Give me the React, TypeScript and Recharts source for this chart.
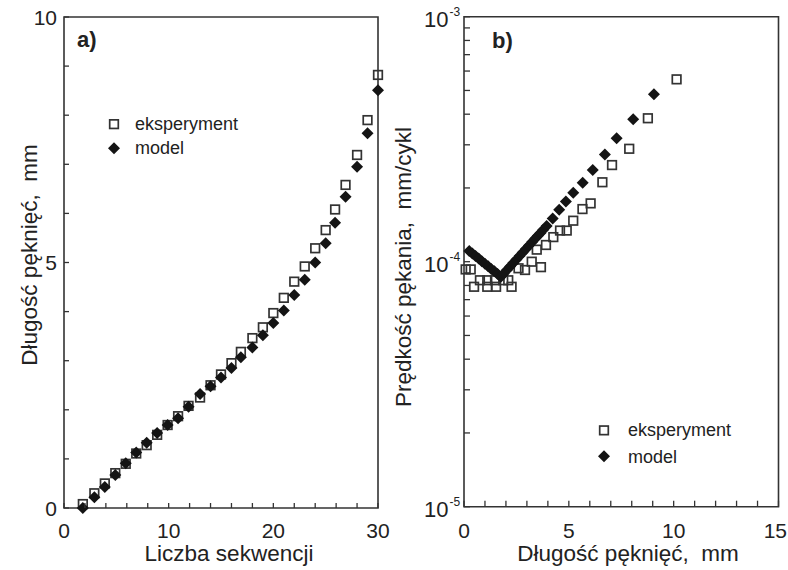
import React from 'react';
import { ScatterChart, Scatter, XAxis, YAxis, ReferenceArea, Legend, Label } from 'recharts';

const FONT = '"Liberation Sans", Arial, Helvetica, sans-serif';
const INK = '#222222';
const MARK = '#141414';
const SQ = '#333333';

// ---------- panel a) ----------
const aSequence = [1.8, 2.9, 3.9, 4.9, 5.9, 6.9, 7.9, 8.9, 9.9, 10.9, 11.9, 13.0, 14.0, 15.0, 16.0, 16.9, 18.0, 19.0, 20.0, 21.0, 22.0, 23.0, 24.0, 25.0, 25.9, 26.9, 28.0, 29.0, 30.0];
const aExperiment = [0.08, 0.30, 0.50, 0.71, 0.90, 1.11, 1.28, 1.49, 1.69, 1.87, 2.08, 2.25, 2.50, 2.72, 2.95, 3.18, 3.46, 3.68, 3.97, 4.28, 4.61, 4.92, 5.29, 5.66, 6.08, 6.58, 7.19, 7.90, 8.82];
const aModel = [0.0, 0.22, 0.43, 0.67, 0.91, 1.13, 1.33, 1.53, 1.69, 1.83, 2.06, 2.32, 2.48, 2.66, 2.85, 3.07, 3.27, 3.52, 3.77, 4.02, 4.34, 4.65, 5.0, 5.39, 5.81, 6.34, 6.95, 7.63, 8.51];
const aXTicks = [0, 2, 4, 6, 8, 10, 12, 14, 16, 18, 20, 22, 24, 26, 28, 30];
const aXLabels = [0, 10, 20, 30];
const aYTicks = [0, 1, 2, 3, 4, 5, 6, 7, 8, 9, 10];
const aYLabels = [0, 5, 10];

// ---------- panel b) ----------
const bExpLength = [0.08, 0.32, 0.48, 0.76, 1.11, 1.11, 1.48, 1.53, 1.87, 2.11, 2.27, 2.6, 2.91, 3.23, 3.47, 3.67, 3.91, 4.26, 4.58, 4.9, 5.21, 5.65, 6.04, 6.6, 7.06, 7.88, 8.77, 10.14];
const bExpRate = [9.3e-5, 9.3e-5, 7.9e-5, 8.4e-5, 8.4e-5, 7.9e-5, 8.4e-5, 7.9e-5, 8.4e-5, 8.4e-5, 7.9e-5, 9.4e-5, 9.25e-5, 1.0e-4, 1.12e-4, 9.5e-5, 1.17e-4, 1.26e-4, 1.34e-4, 1.34e-4, 1.47e-4, 1.64e-4, 1.73e-4, 2.11e-4, 2.48e-4, 2.89e-4, 3.85e-4, 5.55e-4];
const bModelLength = [0.25, 0.4, 0.55, 0.7, 0.85, 1.0, 1.15, 1.3, 1.45, 1.6, 1.76, 1.9, 2.05, 2.2, 2.35, 2.5, 2.65, 2.8, 2.95, 3.1, 3.25, 3.4, 3.52, 3.65, 3.78, 3.94, 4.23, 4.54, 4.86, 5.21, 5.66, 6.14, 6.72, 7.28, 8.07, 9.06];
const bModelRate = [1.106e-4, 1.081e-4, 1.055e-4, 1.031e-4, 1.005e-4, 9.81e-5, 9.58e-5, 9.34e-5, 9.14e-5, 8.91e-5, 8.69e-5, 8.96e-5, 9.26e-5, 9.57e-5, 9.88e-5, 1.02e-4, 1.055e-4, 1.09e-4, 1.126e-4, 1.164e-4, 1.203e-4, 1.243e-4, 1.276e-4, 1.31e-4, 1.35e-4, 1.40e-4, 1.50e-4, 1.63e-4, 1.76e-4, 1.91e-4, 2.10e-4, 2.37e-4, 2.74e-4, 3.19e-4, 3.81e-4, 4.83e-4];
const bXTicks = [0, 1, 2, 3, 4, 5, 6, 7, 8, 9, 10, 11, 12, 13, 14, 15];
const bXLabels = [0, 5, 10, 15];
const bYTicks = [1e-5, 2e-5, 3e-5, 4e-5, 5e-5, 6e-5, 7e-5, 8e-5, 9e-5, 1e-4, 2e-4, 3e-4, 4e-4, 5e-4, 6e-4, 7e-4, 8e-4, 9e-4, 1e-3];
const bYLabels = [1e-5, 1e-4, 1e-3];

const SERIES_NAMES = ['eksperyment', 'model'];

const aExpData = aSequence.map((x, i) => ({ x, y: aExperiment[i] }));
const aModelData = aSequence.map((x, i) => ({ x, y: aModel[i] }));
const bExpData = bExpLength.map((x, i) => ({ x, y: bExpRate[i] }));
const bModelData = bModelLength.map((x, i) => ({ x, y: bModelRate[i] }));

const squareShape = (props: any) => {
  const { cx, cy } = props;
  if (cx == null || cy == null) return <g />;
  return <rect x={cx - 4.3} y={cy - 4.3} width={8.6} height={8.6} fill="none" stroke={SQ} strokeWidth={1.7} />;
};
const diamondShape = (props: any) => {
  const { cx, cy } = props;
  if (cx == null || cy == null) return <g />;
  const r = 6;
  return <path d={`M${cx},${cy - r}L${cx + r},${cy}L${cx},${cy + r}L${cx - r},${cy}Z`} fill={MARK} />;
};

const near = (list: number[], v: number) => list.some((l) => Math.abs(l - v) <= Math.abs(l) * 1e-6 + 1e-12);

const leftTick = (axisX: number, len: number, labels: number[], labelX: number, log: boolean) => (p: any) => {
  const v = p.payload.value;
  const y = p.y;
  const lab = near(labels, v);
  return (
    <g>
      <line x1={axisX} x2={axisX + len} y1={y} y2={y} stroke={SQ} strokeWidth={1.3} />
      {lab && !log && (
        <text x={labelX} y={y + 7.5} textAnchor="end" fontFamily={FONT} fontSize={21} fill={INK}>{v}</text>
      )}
      {lab && log && (
        <text x={labelX} y={y + 10.5} textAnchor="start" fontFamily={FONT} fontSize={22} fill={INK}>
          <tspan>10</tspan>
          <tspan dy={-11} dx={1} fontSize={12}>{String(Math.round(Math.log10(v)))}</tspan>
        </text>
      )}
    </g>
  );
};

const bottomTick = (axisY: number, len: number, labels: number[], maxX: number) => (p: any) => {
  const v = p.payload.value;
  const x = p.x;
  const lab = near(labels, v);
  const anchorEnd = x + 12 > maxX;
  return (
    <g>
      <line x1={x} x2={x} y1={axisY} y2={axisY - len} stroke={SQ} strokeWidth={1.3} />
      {lab && (
        <text x={anchorEnd ? maxX - 1 : x} y={538} textAnchor={anchorEnd ? 'end' : 'middle'} fontFamily={FONT} fontSize={21} fill={INK}>{v}</text>
      )}
    </g>
  );
};

const legendContent = (rowH: number, textGap: number) => () => (
  <div style={{ fontFamily: FONT, fontSize: 18, color: INK }}>
    {SERIES_NAMES.map((name, i) => (
      <div key={name} style={{ display: 'flex', alignItems: 'center', height: rowH }}>
        <svg width={20} height={rowH} style={{ display: 'block' }}>
          {i === 0
            ? <rect x={10 - 4.3} y={rowH / 2 - 4.3} width={8.6} height={8.6} fill="none" stroke={SQ} strokeWidth={1.7} />
            : <path d={`M10,${rowH / 2 - 6}L16,${rowH / 2}L10,${rowH / 2 + 6}L4,${rowH / 2}Z`} fill={MARK} />}
        </svg>
        <span style={{ marginLeft: textGap, lineHeight: '18px' }}>{name}</span>
      </div>
    ))}
  </div>
);

const textTitle = (x: number, y: number, value: string, rotate = false) => () => (
  <text
    x={x}
    y={y}
    textAnchor="middle"
    fontFamily={FONT}
    fontSize={22.5}
    fill={INK}
    transform={rotate ? `rotate(-90, ${x}, ${y})` : undefined}
  >
    {value}
  </text>
);

const panelLetter = (x: number, y: number, value: string) => () => (
  <text x={x} y={y} fontFamily={FONT} fontSize={22} fontWeight="bold" fill={INK}>{value}</text>
);

const W = 788;
const H = 570;

export default function App() {
  return (
    <div style={{ position: 'absolute', left: 0, top: 0, width: W, height: H, background: '#fff' }}>
      <div style={{ position: 'absolute', left: 0, top: 0 }}>
        <ScatterChart width={W} height={H} margin={{ top: 17, right: W - 378, bottom: 0, left: 0 }}>
          <XAxis
            type="number"
            dataKey="x"
            domain={[0, 30]}
            ticks={aXTicks}
            interval={0}
            height={62}
            axisLine={false}
            tickLine={false}
            tick={bottomTick(508, 5, aXLabels, W)}
            label={<Label content={textTitle(229, 561, 'Liczba sekwencji')} />}
          />
          <YAxis
            type="number"
            dataKey="y"
            domain={[0, 10]}
            ticks={aYTicks}
            interval={0}
            width={64}
            axisLine={false}
            tickLine={false}
            tick={leftTick(64, 5, aYLabels, 57, false)}
            label={<Label content={textTitle(37, 255, 'Długość pęknięć,\u00A0 mm', true)} />}
          />
          <ReferenceArea
            x1={0}
            x2={30}
            y1={0}
            y2={10}
            fill="none"
            fillOpacity={0}
            stroke={SQ}
            strokeWidth={1.6}
            label={<Label content={panelLetter(77, 47, 'a)')} />}
          />
          <Scatter name="eksperyment" data={aExpData} shape={squareShape} isAnimationActive={false} />
          <Scatter name="model" data={aModelData} shape={diamondShape} isAnimationActive={false} />
          <Legend
            layout="horizontal"
            verticalAlign="middle"
            align="center"
            content={legendContent(24.3, 11)}
            wrapperStyle={{ left: 104, top: 112, width: 160, height: 50 }}
          />
        </ScatterChart>
      </div>
      <div style={{ position: 'absolute', left: 0, top: 0 }}>
        <ScatterChart width={W} height={H} margin={{ top: 16.7, right: W - 778.5, bottom: 0, left: 0 }}>
          <XAxis
            type="number"
            dataKey="x"
            domain={[0, 15]}
            ticks={bXTicks}
            interval={0}
            height={63.3}
            axisLine={false}
            tickLine={false}
            tick={bottomTick(506.7, 6, bXLabels, W)}
            label={<Label content={textTitle(628, 561, 'Długość pęknięć,\u00A0 mm')} />}
          />
          <YAxis
            type="number"
            dataKey="y"
            scale="log"
            domain={[1e-5, 1e-3]}
            allowDataOverflow
            ticks={bYTicks}
            interval={0}
            width={464}
            axisLine={false}
            tickLine={false}
            tick={leftTick(464, 6, bYLabels, 424, true)}
            label={<Label content={textTitle(411, 267, 'Prędkość pękania,\u00A0 mm/cykl', true)} />}
          />
          <ReferenceArea
            x1={0}
            x2={15}
            y1={1e-5}
            y2={1e-3}
            fill="none"
            fillOpacity={0}
            stroke={SQ}
            strokeWidth={1.6}
            label={<Label content={panelLetter(492, 48, 'b)')} />}
          />
          <Scatter name="eksperyment" data={bExpData} shape={squareShape} isAnimationActive={false} />
          <Scatter name="model" data={bModelData} shape={diamondShape} isAnimationActive={false} />
          <Legend
            layout="horizontal"
            verticalAlign="middle"
            align="center"
            content={legendContent(26.7, 14)}
            wrapperStyle={{ left: 594, top: 416.6, width: 160, height: 54 }}
          />
        </ScatterChart>
      </div>
    </div>
  );
}
